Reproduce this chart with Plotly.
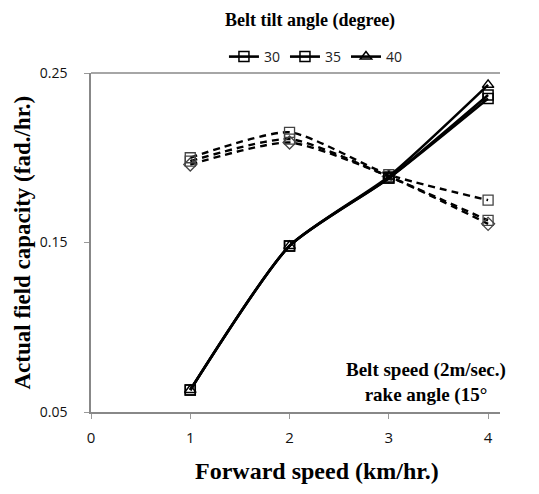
import plotly.graph_objects as go

x_speed = [1, 2, 3, 4]
solid_30 = [0.063, 0.148, 0.188, 0.235]
solid_35 = [0.063, 0.148, 0.188, 0.237]
solid_40 = [0.063, 0.148, 0.189, 0.243]
dash_30 = [0.198, 0.211, 0.189, 0.163]
dash_35 = [0.200, 0.215, 0.190, 0.175]
dash_40 = [0.196, 0.209, 0.189, 0.161]
legend_names = ["30", "35", "40"]
x_ticks = [0, 1, 2, 3, 4]
y_ticks = [0.05, 0.15, 0.25]

serif = "Liberation Serif"
sans = "Open Sans"

fig = go.Figure()

dash_sets = [(dash_30, "square-open"), (dash_35, "square-open"), (dash_40, "diamond-open")]
for vals, sym in dash_sets:
    fig.add_trace(go.Scatter(
        x=x_speed, y=vals, mode="lines",
        line=dict(color="black", width=2.4, dash="7px,5px", shape="spline", smoothing=0.6),
        showlegend=False, hoverinfo="skip"))
for vals, sym in dash_sets:
    fig.add_trace(go.Scatter(
        x=x_speed, y=vals, mode="markers",
        marker=dict(symbol=sym, size=10, color="#444", line=dict(width=1.3)),
        showlegend=False))

solid_sets = [(solid_30, "square-open"), (solid_35, "square-open"), (solid_40, "triangle-up-open")]
for (vals, sym), name in zip(solid_sets, legend_names):
    fig.add_trace(go.Scatter(
        x=x_speed, y=vals, name=name, mode="lines+markers",
        line=dict(color="black", width=2.6, shape="spline", smoothing=0.6),
        marker=dict(symbol=sym, size=10, color="black", line=dict(width=1.5)),
        showlegend=True))

fig.update_layout(
    width=539, height=494,
    margin=dict(l=91, r=39, t=73, b=82),
    plot_bgcolor="white", paper_bgcolor="white",
    showlegend=True,
    legend=dict(orientation="h", x=0.55, xanchor="center", y=1.0, yanchor="bottom",
                traceorder="normal",
                font=dict(family=sans, size=14, color="#222"),
                itemwidth=30, tracegroupgap=0, bgcolor="rgba(0,0,0,0)"),
    xaxis=dict(range=[0, 4.12], tickvals=x_ticks, ticks="outside", ticklen=5,
               tickcolor="#999", showline=True, linecolor="#888", linewidth=1.5,
               showgrid=False, zeroline=False, mirror=False, ticklabelstandoff=6,
               tickfont=dict(family=sans, size=15, color="#111")),
    yaxis=dict(range=[0.05, 0.25], tickvals=y_ticks, tickformat=".2f", ticks="outside", ticklen=5,
               tickcolor="#999", showline=True, linecolor="#888", linewidth=1.5,
               showgrid=False, zeroline=False, ticklabelstandoff=14,
               tickfont=dict(family=sans, size=14, color="#111")),
)

# top border line
fig.add_shape(type="line", xref="paper", yref="paper", x0=0, x1=1, y0=1, y1=1,
              line=dict(color="#888", width=1.5))

fig.add_annotation(text="<b>Belt tilt angle (degree)</b>", xref="paper", yref="paper",
                   x=0.535, y=1.0, yshift=53, xanchor="center", yanchor="middle", showarrow=False,
                   font=dict(family=serif, size=18, color="black"))

# axis titles
fig.add_annotation(text="<b>Forward speed (km/hr.)</b>", xref="paper", yref="paper",
                   x=(317 - 91) / 409, y=0, yshift=-59, xanchor="center", yanchor="middle",
                   showarrow=False, font=dict(family=serif, size=24, color="black"))
fig.add_annotation(text="<b>Actual field capacity (fad./hr.)</b>", xref="paper", yref="paper",
                   x=0, xshift=-69, y=0.5, xanchor="center", yanchor="middle", textangle=-90,
                   showarrow=False, font=dict(family=serif, size=23, color="black"))

fig.add_annotation(text="<b>Belt speed (2m/sec.)<br>rake angle (15°</b>", xref="paper", yref="paper",
                   x=1.025, y=0.0, yshift=2, xanchor="right", yanchor="bottom", showarrow=False,
                   align="center", bgcolor="white", borderpad=3,
                   font=dict(family=serif, size=19, color="black"))

fig.write_html("out.html")
